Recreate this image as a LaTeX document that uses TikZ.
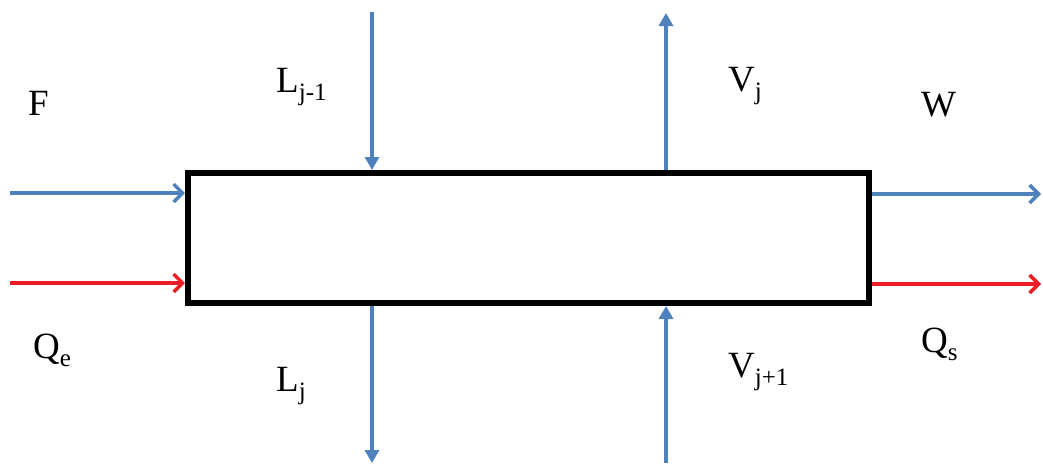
\documentclass[tikz,border=0pt]{standalone}
\usepackage{fontspec}
\setmainfont{Liberation Serif}
\usetikzlibrary{arrows.meta}
\definecolor{flowblue}{RGB}{79,129,189}
\definecolor{flowred}{RGB}{235,28,36}
\newcommand{\lowsub}[1]{\raisebox{-0.22em}{\fontsize{25}{27}\selectfont #1}}
\tikzset{
  lbl/.style={anchor=base west, inner sep=0pt, font=\fontsize{37}{42}\selectfont},
  hblue/.style={draw=flowblue, line width=3.4pt, -{Straight Barb[length=9pt,width=18pt,line width=3.4pt]}},
  hred/.style={draw=flowred, line width=3.4pt, -{Straight Barb[length=9pt,width=18pt,line width=3.4pt]}},
  vblue/.style={draw=flowblue, line width=3.4pt, -{Triangle[length=13pt,width=14pt]}},
  stage/.style={draw=black, line width=6pt, minimum width=681pt, minimum height=130pt, inner sep=0pt}
}
\begin{document}
\begin{tikzpicture}[x=1pt,y=-1pt]
\useasboundingbox (0,0) rectangle (1043,464);
\node[stage] (box) at (528.5,238) {};
% free ends
\coordinate (fin) at (10,193);
\coordinate (qin) at (10,283);
\coordinate (wout) at (1041,194);
\coordinate (qout) at (1041,284);
\coordinate (ltop) at (372,12);
\coordinate (vtop) at (666,13);
\coordinate (lbot) at (372,463);
\coordinate (vbot) at (666,463);
% horizontal flows
\draw[hblue] (fin) -- (fin -| box.west);
\draw[hred] (qin) -- (qin -| box.west);
\draw[hblue] (wout -| box.east) -- (wout);
\draw[hred] (qout -| box.east) -- (qout);
% vertical flows
\draw[vblue] (ltop) -- (ltop |- box.north);
\draw[vblue] (vtop |- box.north) -- (vtop);
\draw[vblue] (lbot |- box.south) -- (lbot);
\draw[vblue] (vbot) -- (vbot |- box.south);
% labels
\node[lbl] (lF) at (28,115) {F};
\node[lbl] (lL1) at (276,92) {L\lowsub{j-1}};
\node[lbl] (lVj) at (728,91) {V\lowsub{j}};
\node[lbl] (lW) at (921,116) {W};
\node[lbl] (lQe) at (33,358) {Q\lowsub{e}};
\node[lbl] (lLj) at (276,391) {L\lowsub{j}};
\node[lbl] (lVj1) at (728,377) {V\lowsub{j+1}};
\node[lbl] (lQs) at (921,352) {Q\lowsub{s}};
\end{tikzpicture}
\end{document}
